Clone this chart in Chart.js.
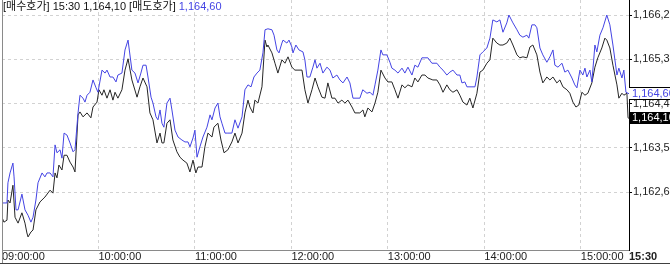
<!DOCTYPE html>
<html>
<head>
<meta charset="utf-8">
<script src="https://cdn.jsdelivr.net/npm/chart.js@4.4.1/dist/chart.umd.min.js"></script>
<style>
  html, body { margin: 0; padding: 0; background: #fff; }
  #wrap { width: 670px; height: 265px; }
</style>
</head>
<body>
<div id="wrap"><canvas id="grafica" width="670" height="265"></canvas></div>
<script>
// minutos desde las 09:00 y precio (매도호가 = azul, 매수호가 = negro)
const askMin = [0,3.1,3.7,5,6.8,7.5,8.7,10,12.4,14.3,16.2,18,19.3,21.1,22.4,24.9,26.7,28,29.9,31.7,
  33,34.2,36.1,37.3,38.6,40.4,42.3,44.2,45.4,47.3,48.5,50.4,51.6,52.9,54.7,56.6,58.5,59.7,62.2,64.1,
  65.3,67.2,69,70.9,72.1,74.6,76.5,78.4,
  80.8,82.7,84.6,86.4,87.7,89.6,90.8,92.7,93.9,95.8,97,98.3,99.5,100.7,102.6,104.5,105.7,107.6,109.5,111.9,
  113.8,115.7,116.9,118.8,120,121.3,123.1,125,127.5,129.4,130.6,132.5,134.3,135.6,136.8,138.7,140.5,143,144.9,146.8,
  149.3,151.1,153,154.9,156.7,
  158.6,160.4,162.3,163.6,165.4,167.9,169.2,171,172.3,174.1,174.8,177.2,178.5,180.3,181,182.8,184.7,187.2,188.4,189.7,
  191.5,193.4,194.7,195.9,197.8,199.6,202.1,204,205.8,208.3,210.2,212.1,214.6,216.4,218.3,220.8,222.6,224.4,227,228.9,
  230.7,
  232,233.8,235.7,236.9,239.4,241.3,242.5,244.4,246.3,248.8,250.6,252.5,255,256.8,258.7,261.2,263.1,264.9,267.4,270.5,
  272.4,274.3,276.7,278.6,280.5,283,284.8,286.1,287.9,289.2,292.3,294.2,295.4,297.3,299.1,301.6,303.5,305.3,307.8,309.7,
  311.6,314,315.3,317.8,320.3,322.1,324,326.5,327.7,329.6,331.5,332.7,334.6,336.4,338.9,340.8,342.7,343.9,345.8,348.3,
  350.1,352,354.5,356.3,357.6,359.5,361.3,362.6,363.8,365.7,366.9,368.8,370,371.9,373.8,376.2,378.1,380,382.5,383.7,
  385.6,386.8,388.1,390];
const askPrice = [1162.38,1162.38,1162.79,1162.99,1163.19,1162.91,1162.24,1162.24,1162.56,1162.24,
  1162.13,1161.99,1162.09,1162.44,1162.79,1162.99,1162.91,1162.99,1162.99,1162.91,
  1163.56,1163.40,1163.46,1163.29,1163.80,1163.76,1163.60,1163.42,1163.46,1164.21,
  1164.57,1164.51,1164.43,1164.57,1164.63,1164.88,1164.72,1164.63,1165.08,1165.02,
  1165.08,1164.94,1164.94,1164.84,1164.98,1165.02,1165.49,1165.69,
  1165.08,1165.02,1164.82,1165.02,1165.18,1165.18,1164.94,1164.53,1164.41,1164.13,
  1164.07,1164.27,1164.00,1163.92,1164.41,1164.51,1164.27,1163.86,1163.72,1163.66,
  1163.62,1163.62,1163.52,1163.70,1163.86,1163.31,1163.52,1163.72,1163.92,1164.17,
  1164.07,1164.31,1164.41,1164.13,1164.00,1163.80,1163.80,1163.80,1164.07,1163.90,
  1164.13,1164.68,1164.78,1164.74,1164.94,
  1165.02,1165.08,1165.43,1165.90,1165.92,1165.90,1165.79,1165.49,1165.43,1165.63,
  1165.69,1165.63,1165.69,1165.55,1165.43,1165.59,1165.49,1165.45,1165.29,1164.94,
  1164.94,1165.14,1165.29,1165.12,1165.22,1165.02,1165.14,1165.08,1164.92,1164.98,
  1164.88,1164.82,1164.94,1164.82,1164.51,1164.51,1164.51,1164.68,1164.61,1164.63,
  1164.57,
  1164.78,1165.08,1165.49,1165.39,1165.39,1165.24,1165.12,1165.08,1165.02,1165.12,
  1165.02,1165.14,1164.98,1165.18,1165.14,1165.33,1165.33,1165.33,1165.22,1165.22,
  1165.14,1165.08,1164.98,1165.04,1165.08,1164.98,1164.98,1164.82,1164.84,1164.74,
  1164.74,1164.74,1164.94,1165.39,1165.45,1165.53,1165.73,1166.10,1166.06,1166.10,
  1165.85,1166.04,1166.20,1166.04,1165.90,1165.79,1165.75,1165.79,1165.73,1166.00,
  1166.00,1165.94,1165.53,1165.39,1165.24,1165.35,1165.49,1165.18,1165.14,1165.22,
  1165.04,1165.08,1164.92,1164.78,1164.72,1165.08,1164.98,1165.12,1164.94,1165.08,
  1164.84,1165.59,1165.45,1165.79,1165.94,1166.20,1166.00,1165.59,1164.98,1165.12,
  1164.92,1165.08,1164.63,1164.60];

const bidMin = [0,1.2,3.1,3.7,5,6.8,8.1,10,12.4,14.3,15.5,16.2,18,19.3,21.1,23.6,26.7,29.9,31.7,33,
  34.2,35.4,37.3,38.6,40.4,42.3,44.2,45.4,47.3,48.5,50.4,52.9,55.3,56.6,59.1,60.3,62.2,63.4,65.3,67.2,
  69,70.3,72.1,74.6,76.5,78.4,
  80.8,84,85.8,87.7,90.2,92,93.9,96.4,98.3,99.5,100.7,102.6,104.5,106.3,108.8,110.7,112.6,115,116.9,118.8,
  120.6,121.9,124.4,126.2,128.1,130.6,131.8,134.3,136.2,138.1,140.5,143,144.9,146.8,149.3,151.1,153,
  154.2,156.1,157.3,159.2,161.7,163.6,164.8,165.4,167.9,169.8,171.6,174.1,176,177.9,180.3,182.2,184.1,186.6,188.4,190.3,
  192.8,194.7,196.5,199,200.9,202.7,205.2,207.1,209,211.4,213.3,215.2,217.7,219.5,222.6,224.5,225.7,227.6,230.1,
  232,233.8,235.7,238.2,240,242.5,244.4,246.3,248.8,250.6,252.5,255,256.8,258.7,261.2,263.1,264.9,268,270.5,272.4,
  274.3,276.7,278.6,280.5,283,284.8,286.7,289.2,291,292.9,295.4,297.3,299.1,301.6,303.5,305.3,307.8,309.7,
  311.6,314,315.9,317.8,320.3,322.1,324,326.5,328.4,330.2,332.7,334.6,336.4,338.9,340.8,342.7,345.1,347,348.9,351.4,
  353.2,355.1,357,358.8,360.7,362.6,364.4,366.9,368.8,370.6,373.1,375,376.2,378.1,380,382.5,383.7,385.6,386.8,388.7,
  389.4,390];
const bidPrice = [1162.09,1161.99,1162.03,1162.44,1162.38,1162.74,1162.09,1161.97,1162.18,1161.97,
  1161.77,1161.69,1161.79,1161.83,1162.24,1162.40,1162.50,1162.64,1162.58,1162.99,
  1162.89,1163.15,1163.05,1163.35,1163.35,1163.21,1163.11,1163.01,1164.17,1164.23,
  1164.13,1164.21,1164.11,1164.33,1164.43,1164.68,1164.57,1164.68,1164.51,1164.68,
  1164.47,1164.63,1164.51,1164.68,1165.08,1165.31,
  1164.88,1164.53,1164.74,1164.92,1164.74,1164.21,1164.07,1163.60,1163.80,1163.60,
  1163.60,1164.00,1164.07,1163.66,1163.42,1163.31,1163.25,1163.19,1163.01,1163.25,
  1162.99,1163.11,1163.11,1163.52,1163.80,1163.72,1163.92,1164.00,1163.66,1163.40,
  1163.46,1163.62,1163.80,1163.60,1163.80,1164.21,1164.47,
  1164.33,1164.21,1164.47,1164.41,1164.74,1165.69,1165.55,1165.59,1165.43,1165.22,
  1165.02,1165.29,1165.22,1165.35,1165.14,1165.08,1165.08,1165.08,1164.68,1164.41,
  1164.68,1164.92,1164.74,1164.53,1164.51,1164.82,1164.51,1164.51,1164.41,1164.47,
  1164.41,1164.47,1164.33,1164.21,1164.21,1164.27,1164.13,1164.31,1164.23,
  1164.41,1164.63,1165.08,1164.92,1164.84,1164.84,1164.68,1164.51,1164.78,1164.72,
  1164.78,1164.74,1164.92,1164.84,1164.98,1164.98,1164.92,1164.88,1164.88,1164.78,
  1164.63,1164.78,1164.68,1164.63,1164.68,1164.57,1164.43,1164.37,1164.51,1164.31,
  1164.61,1165.04,1165.08,1165.22,1165.29,1165.73,1165.63,1165.59,
  1165.59,1165.63,1165.73,1165.59,1165.39,1165.33,1165.35,1165.33,1165.55,1165.59,
  1165.39,1165.04,1164.82,1164.94,1164.88,1164.94,1164.82,1164.88,1164.74,1164.68,
  1164.61,1164.43,1164.33,1164.37,1164.63,1164.57,1164.61,1164.82,1165.14,1165.33,
  1165.53,1165.73,1165.69,1165.53,1165.18,1164.78,1164.51,1164.61,1164.57,1164.61,
  1164.11,1164.10];

const hourTicks = [0, 60, 120, 180, 240, 300, 360, 390];
const hourLabels = ['09:00:00', '10:00:00', '11:00:00', '12:00:00', '13:00:00', '14:00:00', '15:00:00', '15:30'];
const priceTicks = [1162.6, 1163.5, 1164.4, 1165.3, 1166.2];

const FUENTE = '"Liberation Sans", Arial, "Noto Sans CJK KR", sans-serif';
const AZUL = '#4444e4';
const NEGRO = '#262626';

// 1164.1 -> "1,164,10"
function formato(v, dec) {
    const partes = v.toFixed(dec).split('.');
    const entero = partes[0].replace(/\B(?=(\d{3})+(?!\d))/g, ',');
    return dec > 0 ? entero + ',' + partes[1] : entero;
}

function puntos(xs, ys) {
    return xs.map((m, i) => ({ x: m, y: ys[i] }));
}

const ultimoAsk = askPrice[askPrice.length - 1];
const ultimoBid = bidPrice[bidPrice.length - 1];

const marco = {
    id: 'marco',
    beforeDraw(chart) {
        const c = chart.ctx;
        c.save();
        c.fillStyle = '#fff';
        c.fillRect(0, 0, chart.width, chart.height);
        c.restore();
    },
    afterDraw(chart) {
        const c = chart.ctx;
        const area = chart.chartArea;
        const y = chart.scales.y;
        c.save();
        // bordes
        c.strokeStyle = '#8a8a8a';
        c.lineWidth = 1;
        c.beginPath();
        c.moveTo(area.left + 0.5, 0);
        c.lineTo(area.left + 0.5, chart.height - 1);
        c.stroke();
        c.strokeStyle = '#404040';
        c.beginPath();
        c.moveTo(0, chart.height - 1.5);
        c.lineTo(chart.width, chart.height - 1.5);
        c.stroke();

        // encabezado
        c.font = '11px ' + FUENTE;
        c.textBaseline = 'middle';
        c.textAlign = 'left';
        const txt = '[매수호가] 15:30 ' + formato(ultimoBid, 2) + ' [매도호가] ';
        c.fillStyle = '#111';
        c.fillText(txt, 3, 7);
        c.fillStyle = AZUL;
        c.fillText(formato(ultimoAsk, 2), 3 + c.measureText(txt).width, 7);

        // cajas del ultimo valor
        const x0 = area.right;
        const w = chart.width - x0;
        const ya = Math.round(y.getPixelForValue(ultimoAsk));
        c.fillStyle = '#fff';
        c.fillRect(x0, ya - 7, w, 13);
        c.strokeStyle = '#000';
        c.beginPath();
        c.moveTo(x0, ya - 6.5); c.lineTo(chart.width, ya - 6.5);
        c.moveTo(x0, ya + 5.5); c.lineTo(chart.width, ya + 5.5);
        c.stroke();
        c.fillStyle = AZUL;
        c.fillText(formato(ultimoAsk, 2), x0 + 3, ya);

        const yb = Math.round(y.getPixelForValue(ultimoBid));
        c.fillStyle = '#000';
        c.fillRect(x0, yb - 6, w, 12);
        c.fillStyle = '#fff';
        c.fillText(formato(ultimoBid, 2), x0 + 3, yb);
        c.restore();
    }
};

const ctx = document.getElementById('grafica').getContext('2d');
window.miGrafica = new Chart(ctx, {
    type: 'line',
    data: {
        datasets: [
            {
                label: '매도호가',
                data: puntos(askMin, askPrice),
                borderColor: AZUL,
                borderWidth: 1,
                pointRadius: 0,
                tension: 0
            },
            {
                label: '매수호가',
                data: puntos(bidMin, bidPrice),
                borderColor: NEGRO,
                borderWidth: 1,
                pointRadius: 0,
                tension: 0
            }
        ]
    },
    options: {
        responsive: false,
        animation: false,
        events: [],
        layout: { padding: { left: 2, top: 0, right: 0, bottom: 0 } },
        plugins: {
            legend: { display: false },
            tooltip: { enabled: false }
        },
        scales: {
            x: {
                type: 'linear',
                min: 0,
                max: 390,
                afterBuildTicks: s => { s.ticks = hourTicks.map(v => ({ value: v })); },
                afterFit: s => { s.height = 15; s.paddingLeft = 0; s.paddingRight = 0; },
                grid: { color: '#d2d2d2', drawTicks: false },
                border: { color: '#8a8a8a', dash: [3, 3] },
                ticks: {
                    align: 'start',
                    padding: 0,
                    autoSkip: false,
                    maxRotation: 0,
                    color: '#222',
                    font: c => ({ family: FUENTE, size: 11, weight: c.index === hourTicks.length - 1 ? 'bold' : 'normal' }),
                    callback: (v, i) => hourLabels[i]
                }
            },
            y: {
                position: 'right',
                min: 1161.424,
                max: 1166.505,
                afterBuildTicks: s => { s.ticks = priceTicks.map(v => ({ value: v })); },
                afterFit: s => { s.width = 41; s.paddingTop = 0; s.paddingBottom = 0; },
                grid: { color: '#d2d2d2', tickColor: '#000', tickLength: 3, tickBorderDash: [] },
                border: { color: '#000', dash: [3, 3] },
                ticks: {
                    padding: 1,
                    color: '#222',
                    font: { family: FUENTE, size: 11 },
                    callback: v => formato(v, 1)
                }
            }
        }
    },
    plugins: [marco]
});
</script>
</body>
</html>
